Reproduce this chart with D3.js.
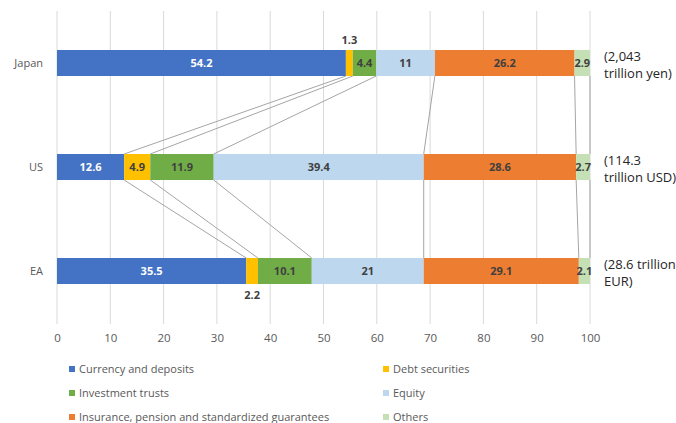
<!DOCTYPE html>
<html>
<head>
<meta charset="utf-8">
<script src="https://cdn.jsdelivr.net/npm/d3@7"></script>
<style>
  body { margin: 0; background: #fff; }
  text { font-family: "Open Sans", "Noto Sans", sans-serif; }
</style>
</head>
<body>
<div id="chart"></div>
<script>
// regions and categories
var regions = ["Japan", "US", "EA"];
var categories = ["Currency and deposits", "Debt securities", "Investment trusts",
                  "Equity", "Insurance, pension and standardized guarantees", "Others"];
var colours = ["#4472C4", "#FFC000", "#70AD47", "#BDD7EE", "#ED7D31", "#C5E0B4"];

// shares in percent, one array per region
var japan = [54.2, 1.3, 4.4, 11, 26.2, 2.9];
var us = [12.6, 4.9, 11.9, 39.4, 28.6, 2.7];
var ea = [35.5, 2.2, 10.1, 21, 29.1, 2.1];
var values = [japan, us, ea];

// totals shown at the right of each bar
var totals = [["(2,043", "trillion yen)"], ["(114.3", "trillion USD)"], ["(28.6 trillion", "EUR)"]];
var xTicks = [0, 10, 20, 30, 40, 50, 60, 70, 80, 90, 100];

var svg = d3.select("#chart").append("svg")
    .attr("width", 676)
    .attr("height", 423);

// x scale
var x = d3.scaleLinear().domain([0, 100]).range([57, 590]);

// y scale
var y = d3.scaleBand().domain(regions).range([11, 323])
    .paddingInner(0.75).paddingOuter(0.375);

// grid lines
svg.append("g").selectAll("line")
    .data(xTicks)
    .join("line")
        .attr("x1", function (d) { return x(d); })
        .attr("x2", function (d) { return x(d); })
        .attr("y1", 11)
        .attr("y2", 324)
        .attr("stroke", "#d9d9d9")
        .attr("stroke-width", 1);

// x axis tick labels
var xAxis = svg.append("g")
    .attr("transform", "translate(0,334)")
    .call(d3.axisBottom(x).tickValues(xTicks).tickSize(0).tickPadding(0));
xAxis.select(".domain").remove();
xAxis.selectAll("text")
    .attr("fill", "#595959")
    .style("font-size", "11.5px")
    .style("font-family", "'Open Sans', sans-serif");

// stacked segments
var segs = [];
values.forEach(function (vals, i) {
    var cum = 0;
    vals.forEach(function (v, j) {
        segs.push({region: regions[i], cat: j, x0: cum, x1: cum + v, v: v});
        cum += v;
    });
});

// series lines between bars
var links = [];
for (var i = 0; i < regions.length - 1; i++) {
    var a = 0, b = 0;
    for (var j = 0; j < categories.length; j++) {
        a += values[i][j];
        b += values[i + 1][j];
        links.push({x0: Math.min(a, 100), x1: Math.min(b, 100), r0: regions[i], r1: regions[i + 1]});
    }
}
svg.append("g").selectAll("line")
    .data(links)
    .join("line")
        .attr("x1", function (d) { return x(d.x0); })
        .attr("x2", function (d) { return x(d.x1); })
        .attr("y1", function (d) { return y(d.r0) + y.bandwidth(); })
        .attr("y2", function (d) { return y(d.r1); })
        .attr("stroke", "#a5a5a5")
        .attr("stroke-width", 1);

svg.append("g").selectAll("rect")
    .data(segs)
    .join("rect")
        .attr("x", function (d) { return x(d.x0); })
        .attr("width", function (d) { return x(Math.min(d.x1, 100)) - x(d.x0); })
        .attr("y", function (d) { return y(d.region); })
        .attr("height", y.bandwidth())
        .attr("fill", function (d) { return colours[d.cat]; });

// value labels; tiny debt slices get their label outside the bar
svg.append("g").selectAll("text")
    .data(segs)
    .join("text")
        .attr("x", function (d) { return x((d.x0 + Math.min(d.x1, 100)) / 2); })
        .attr("y", function (d) {
            var mid = y(d.region) + y.bandwidth() / 2;
            if (d.v < 2.5 && d.cat == 1) {
                return d.region == "Japan" ? y(d.region) - 10 : y(d.region) + y.bandwidth() + 11;
            }
            return mid;
        })
        .attr("dy", "0.35em")
        .attr("text-anchor", "middle")
        .attr("fill", function (d) { return d.cat == 0 ? "#ffffff" : "#404040"; })
        .style("font-size", "11px")
        .style("font-weight", "bold")
        .text(function (d) { return d.v; });

// region labels
svg.append("g").selectAll("text")
    .data(regions)
    .join("text")
        .attr("x", 43)
        .attr("y", function (d) { return y(d) + y.bandwidth() / 2; })
        .attr("dy", "0.35em")
        .attr("text-anchor", "end")
        .attr("fill", "#595959")
        .style("font-size", "11px")
        .text(function (d) { return d; });

// totals on the right, two lines each
var totLines = [];
totals.forEach(function (t, i) {
    t.forEach(function (s, k) { totLines.push({region: regions[i], k: k, s: s}); });
});
svg.append("g").selectAll("text")
    .data(totLines)
    .join("text")
        .attr("x", 604)
        .attr("y", function (d) { return y(d.region) + y.bandwidth() / 2 - 7 + d.k * 17; })
        .attr("dy", "0.35em")
        .attr("fill", "#262626")
        .style("font-size", "13px")
        .text(function (d) { return d.s; });

// legend
var legend = svg.append("g").selectAll("g")
    .data(categories)
    .join("g")
        .attr("transform", function (d, i) {
            return "translate(" + (i % 2 == 0 ? 69 : 383) + "," + (369 + Math.floor(i / 2) * 24) + ")";
        });
legend.append("rect")
    .attr("x", 0)
    .attr("y", -3)
    .attr("width", 6)
    .attr("height", 6)
    .attr("fill", function (d, i) { return colours[i]; });
legend.append("text")
    .attr("x", 10)
    .attr("dy", "0.35em")
    .attr("fill", "#595959")
    .style("font-size", "11px")
    .text(function (d) { return d; });
</script>
</body>
</html>
